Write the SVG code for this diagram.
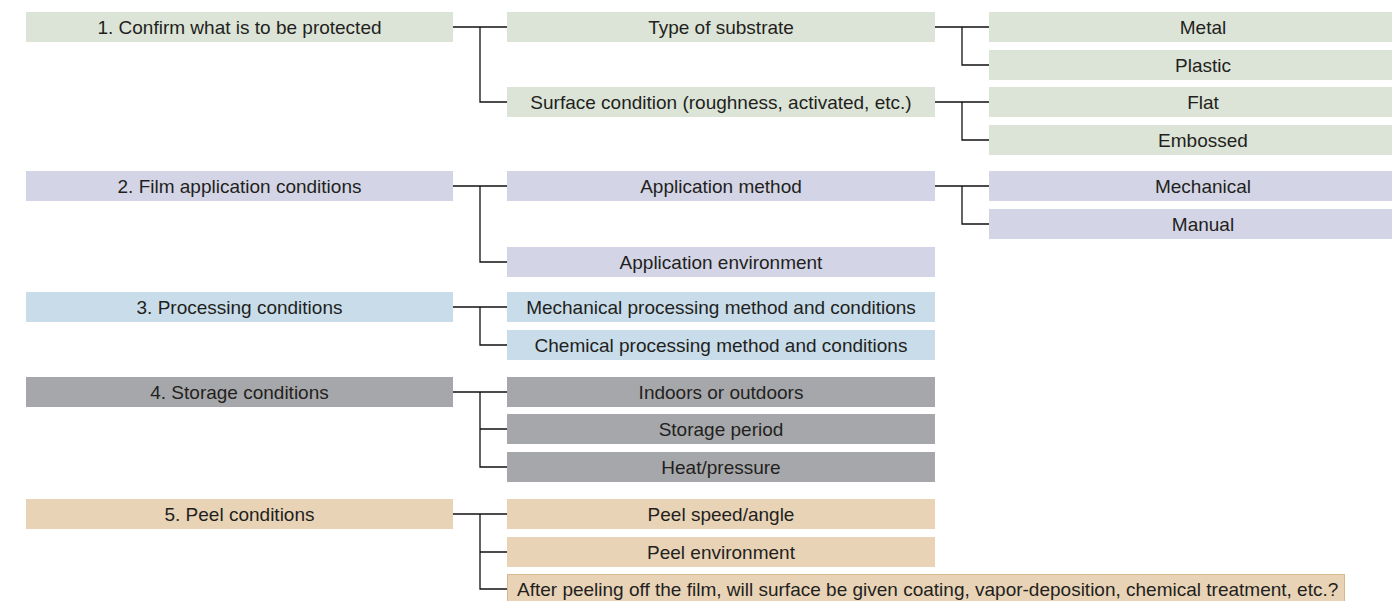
<svg xmlns="http://www.w3.org/2000/svg" width="1392" height="601" viewBox="0 0 1392 601">
<style>
text{font-family:"Liberation Sans",Arial,sans-serif;font-size:19px;fill:#231f20;text-anchor:middle;dominant-baseline:central}
.g1{fill:#dbe4d7}.g2{fill:#d3d5e6}.g3{fill:#c8dcea}.g4{fill:#a6a7aa}.g5{fill:#e8d3b7}
.c{fill:none;stroke:#111;stroke-width:1.3}
</style>
<rect width="1392" height="601" fill="#fff"/>
<g id="connectors">
<path class="c" d="M453 27H507M480 27V102H507M935 27H989M962 27V65H989M935 102H989M962 102V140H989"/>
<path class="c" d="M453 186H507M480 186V262H507M935 186H989M962 186V224H989"/>
<path class="c" d="M453 307H507M480 307V345H507"/>
<path class="c" d="M453 392H507M480 392V467H507M480 429H507"/>
<path class="c" d="M453 514H507M480 514V589H507M480 552H507"/>
</g>
<g id="n1"><rect class="g1" x="26" y="12" width="427" height="30"/><text x="239.5" y="27">1. Confirm what is to be protected</text></g>
<g id="n1a"><rect class="g1" x="507" y="12" width="428" height="30"/><text x="721" y="27">Type of substrate</text></g>
<g id="n1b"><rect class="g1" x="507" y="87" width="428" height="30"/><text x="721" y="102">Surface condition (roughness, activated, etc.)</text></g>
<g id="n1a1"><rect class="g1" x="989" y="12" width="403" height="30"/><text x="1203" y="27">Metal</text></g>
<g id="n1a2"><rect class="g1" x="989" y="50" width="403" height="30"/><text x="1203" y="65">Plastic</text></g>
<g id="n1b1"><rect class="g1" x="989" y="87" width="403" height="30"/><text x="1203" y="102">Flat</text></g>
<g id="n1b2"><rect class="g1" x="989" y="125" width="403" height="30"/><text x="1203" y="140">Embossed</text></g>

<g id="n2"><rect class="g2" x="26" y="171" width="427" height="30"/><text x="239.5" y="186">2. Film application conditions</text></g>
<g id="n2a"><rect class="g2" x="507" y="171" width="428" height="30"/><text x="721" y="186">Application method</text></g>
<g id="n2b"><rect class="g2" x="507" y="247" width="428" height="30"/><text x="721" y="262">Application environment</text></g>
<g id="n2a1"><rect class="g2" x="989" y="171" width="403" height="30"/><text x="1203" y="186">Mechanical</text></g>
<g id="n2a2"><rect class="g2" x="989" y="209" width="403" height="30"/><text x="1203" y="224">Manual</text></g>

<g id="n3"><rect class="g3" x="26" y="292" width="427" height="30"/><text x="239.5" y="307">3. Processing conditions</text></g>
<g id="n3a"><rect class="g3" x="507" y="292" width="428" height="30"/><text x="721" y="307">Mechanical processing method and conditions</text></g>
<g id="n3b"><rect class="g3" x="507" y="330" width="428" height="30"/><text x="721" y="345">Chemical processing method and conditions</text></g>

<g id="n4"><rect class="g4" x="26" y="377" width="427" height="30"/><text x="239.5" y="392">4. Storage conditions</text></g>
<g id="n4a"><rect class="g4" x="507" y="377" width="428" height="30"/><text x="721" y="392">Indoors or outdoors</text></g>
<g id="n4b"><rect class="g4" x="507" y="414" width="428" height="30"/><text x="721" y="429">Storage period</text></g>
<g id="n4c"><rect class="g4" x="507" y="452" width="428" height="30"/><text x="721" y="467">Heat/pressure</text></g>

<g id="n5"><rect class="g5" x="26" y="499" width="427" height="30"/><text x="239.5" y="514">5. Peel conditions</text></g>
<g id="n5a"><rect class="g5" x="507" y="499" width="428" height="30"/><text x="721" y="514">Peel speed/angle</text></g>
<g id="n5b"><rect class="g5" x="507" y="537" width="428" height="30"/><text x="721" y="552">Peel environment</text></g>
<g id="n5c"><rect class="g5" x="507.5" y="574.5" width="837" height="30" stroke="#d6b891" stroke-width="1"/><text x="517" y="589" style="text-anchor:start">After peeling off the film, will surface be given coating, vapor-deposition, chemical treatment, etc.?</text></g>
</svg>
